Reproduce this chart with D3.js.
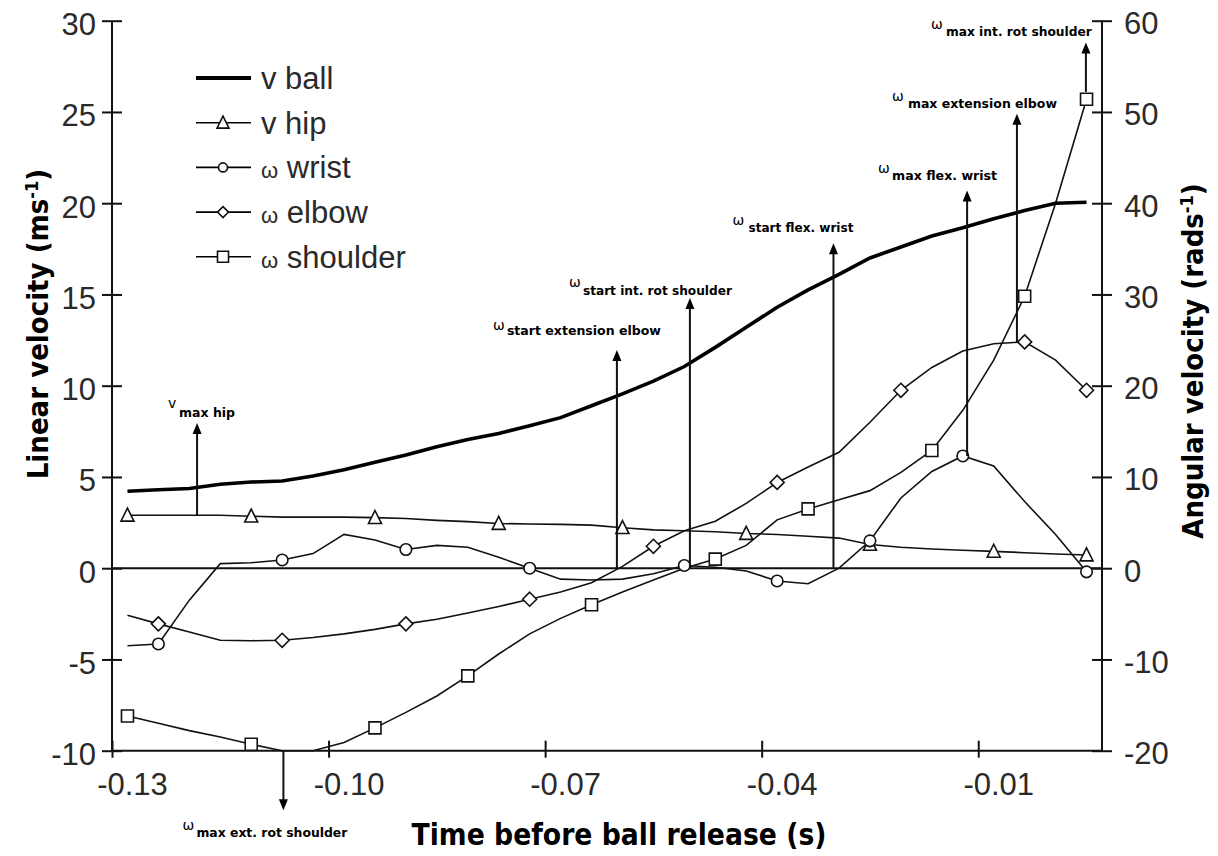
<!DOCTYPE html>
<html>
<head>
<meta charset="utf-8">
<script src="https://cdn.jsdelivr.net/npm/d3@7"></script>
<style>
  html, body { margin: 0; padding: 0; background: #fff; }
  svg { display: block; }
</style>
</head>
<body>
<svg id="chart" width="1218" height="856"></svg>
<script>
// Samples before ball release (one category per sample)
const sampleCount = 32;
const timeLabels = ["-0.13", "-0.10", "-0.07", "-0.04", "-0.01"];
const labelSamples = [0, 7, 14, 21, 28];

// Linear velocities (m/s)
const vBall = [4.22, 4.3, 4.37, 4.6, 4.72, 4.78, 5.05, 5.4, 5.8, 6.2, 6.65, 7.05, 7.38, 7.8, 8.25, 8.9,
               9.55, 10.25, 11.05, 12.1, 13.2, 14.3, 15.25, 16.1, 17.0, 17.6, 18.2, 18.65, 19.15, 19.6, 20.0, 20.05];
const vHip = [2.9, 2.9, 2.9, 2.9, 2.85, 2.8, 2.8, 2.8, 2.77, 2.72, 2.62, 2.55, 2.45, 2.42, 2.4, 2.36,
              2.22, 2.1, 2.05, 2.0, 1.9, 1.85, 1.75, 1.65, 1.3, 1.15, 1.05, 0.98, 0.92, 0.85, 0.78, 0.72];

// Angular velocities (rad/s)
const wWrist = [-8.5, -8.3, -3.5, 0.5, 0.6, 0.9, 1.6, 3.7, 3.1, 2.05, 2.5, 2.3, 1.2, 0.0, -1.2, -1.3,
                -1.2, -0.6, 0.3, 0.1, -0.3, -1.4, -1.7, 0.0, 3.0, 7.7, 10.6, 12.3, 11.2, 7.3, 3.7, -0.4];
const wElbow = [-5.15, -6.1, -7.0, -7.9, -7.95, -7.9, -7.6, -7.2, -6.7, -6.1, -5.6, -4.9, -4.2, -3.4, -2.6, -1.6,
                0.2, 2.4, 4.1, 5.15, 7.1, 9.4, 11.1, 12.7, 16.0, 19.5, 22.0, 23.8, 24.6, 24.8, 22.8, 19.5];
const wShoulder = [-16.2, -17.0, -17.8, -18.5, -19.3, -20.0, -20.0, -19.1, -17.5, -15.8, -14.0, -11.8, -9.4, -7.2, -5.5, -4.0,
                   -2.6, -1.3, 0.0, 1.0, 2.5, 5.3, 6.5, 7.5, 8.5, 10.5, 12.9, 17.3, 22.8, 29.8, 40.0, 51.4];

// Samples that carry a marker
const hipMarks = [0, 4, 8, 12, 16, 20, 24, 28, 31];
const wristMarks = [1, 5, 9, 13, 18, 21, 24, 27, 31];
const elbowMarks = [1, 5, 9, 13, 17, 21, 25, 29, 31];
const shoulderMarks = [0, 4, 8, 11, 15, 19, 22, 26, 29, 31];

const linearTicks = [-10, -5, 0, 5, 10, 15, 20, 25, 30];
const angularTicks = [-20, -10, 0, 10, 20, 30, 40, 50, 60];

// Event arrows: sample position, start and end in m/s units (left axis)
const eventSymbols = ["v", "ω", "ω", "ω", "ω", "ω", "ω", "ω"];
const eventNames = ["max hip", "max ext. rot shoulder", "start extension elbow", "start int. rot shoulder",
                    "start flex. wrist", "max flex. wrist", "max extension elbow", "max int. rot shoulder"];
const eventAt = [2.25, 5.04, 15.82, 18.18, 22.82, 27.14, 28.75, 30.98];
const eventFrom = [2.9, -10, 0, 0, 0, 6.15, 12.4, 26.1];
const eventTo = [7.95, -13.26, 11.95, 14.8, 17.8, 20.7, 24.9, 28.8];

// Label placement for each event (offsets from the arrow tip, label widths)
const eventLayout = [
  { sx: -29, sy: -15, tx: -18, ty: -6, w: 56 },
  { sx: -101, sy: 20, tx: -87, ty: 27, w: 151 },
  { sx: -124, sy: -20, tx: -110, ty: -15, w: 154 },
  { sx: -121, sy: -11, tx: -107, ty: -3, w: 149 },
  { sx: -101, sy: -18, tx: -85, ty: -11, w: 105 },
  { sx: -89, sy: -17, tx: -75, ty: -10, w: 105 },
  { sx: -125, sy: -13, tx: -109, ty: -6, w: 149 },
  { sx: -155, sy: -14, tx: -140, ty: -7, w: 146 }
];

const svg = d3.select("#chart");
const plot = { left: 112, right: 1102, top: 20.7, bottom: 750.7 };

const x = d3.scaleLinear().domain([-0.5, sampleCount - 0.5]).range([plot.left, plot.right]);
const yL = d3.scaleLinear().domain([-10, 30]).range([plot.bottom, plot.top]);
const yR = d3.scaleLinear().domain([-20, 60]).range([plot.bottom, plot.top]);

const ink = "#111";
const tickFont = "'Liberation Sans', Arial, sans-serif";
const titleFont = "'Liberation Sans Narrow', 'Arial Narrow', 'DejaVu Sans Condensed', sans-serif";
const plain = d => String(d);   // hyphen-minus, as printed on the axes

// ----- axes -----
const axisL = svg.append("g").attr("transform", `translate(${plot.left},0)`)
  .call(d3.axisLeft(yL).tickValues(linearTicks).tickFormat(plain).tickSize(10).tickPadding(16));
const axisR = svg.append("g").attr("transform", `translate(${plot.right},0)`)
  .call(d3.axisRight(yR).tickValues(angularTicks).tickFormat(plain).tickSize(10).tickPadding(20));
const axisB = svg.append("g").attr("transform", `translate(0,${plot.bottom})`)
  .call(d3.axisBottom(x).tickValues(labelSamples.map(s => s - 0.5))
    .tickFormat((d, i) => timeLabels[i]).tickSize(7).tickPadding(22));

[axisL, axisR, axisB].forEach(g => {
  g.select(".domain").attr("stroke", ink).attr("stroke-width", 2);
  g.selectAll(".tick line").attr("stroke", ink).attr("stroke-width", 2);
  g.selectAll(".tick text").attr("fill", "#2a2a2a")
    .style("font-family", tickFont).style("font-size", "31px");
});
// ticks cross the axis lines
axisL.selectAll(".tick line").attr("x1", 10).attr("x2", -10);
axisR.selectAll(".tick line").attr("x1", -10).attr("x2", 10);
axisB.selectAll(".tick line").attr("y1", -10).attr("y2", 7);
axisL.selectAll(".tick text").attr("x", -16).attr("dy", "0.45em");
axisR.selectAll(".tick text").attr("x", 22).attr("dy", "0.42em");
axisB.selectAll(".tick text").attr("dx", 20).attr("dy", "0.5em");
axisL.select(".domain").attr("d", `M0,${plot.top}V${plot.bottom}`);
axisR.select(".domain").attr("d", `M0,${plot.top}V${plot.bottom}`);
axisB.select(".domain").attr("d", `M${plot.left},0H${plot.right}`);

// zero line
svg.append("line")
  .attr("x1", plot.left).attr("x2", plot.right)
  .attr("y1", yL(0)).attr("y2", yL(0))
  .attr("stroke", ink).attr("stroke-width", 2);

// ----- titles -----
svg.append("text")
  .attr("x", 619).attr("y", 845).attr("text-anchor", "middle")
  .attr("textLength", 415).attr("lengthAdjust", "spacingAndGlyphs")
  .style("font-family", titleFont).style("font-weight", "bold").style("font-size", "30px")
  .attr("fill", "#000").text("Time before ball release (s)");

function sideTitle(cx, cy, main) {
  const t = svg.append("text")
    .attr("transform", `translate(${cx},${cy}) rotate(-90)`)
    .attr("text-anchor", "middle")
    .style("font-family", titleFont).style("font-weight", "bold").style("font-size", "29px")
    .attr("fill", "#000");
  t.append("tspan").text(main);
  t.append("tspan").attr("dy", -10).style("font-size", "18px").text("-1");
  t.append("tspan").attr("dy", 10).text(")");
  return t;
}
sideTitle(48, 324, "Linear velocity (ms");
sideTitle(1203, 361, "Angular velocity (rads");

// ----- series -----
const line = (vals, scale) => d3.line()
  .x((d, i) => x(i)).y(d => scale(d))(vals);

const series = [
  { vals: vHip, scale: yL, marks: hipMarks, shape: "triangle" },
  { vals: wWrist, scale: yR, marks: wristMarks, shape: "circle" },
  { vals: wElbow, scale: yR, marks: elbowMarks, shape: "diamond" },
  { vals: wShoulder, scale: yR, marks: shoulderMarks, shape: "square" }
];

function markerPath(shape, s) {
  if (shape === "triangle") return `M0,${-s * 0.55}L${s * 0.5},${s * 0.45}L${-s * 0.5},${s * 0.45}Z`;
  if (shape === "diamond") return `M0,${-s / 2}L${s / 2},0L0,${s / 2}L${-s / 2},0Z`;
  if (shape === "square") return `M${-s / 2},${-s / 2}h${s}v${s}h${-s}Z`;
  const r = s / 2;
  return `M${r},0A${r},${r} 0 1,1 ${-r},0A${r},${r} 0 1,1 ${r},0Z`;
}
const markerSize = { triangle: 13, circle: 11.5, diamond: 14, square: 12 };

series.forEach(s => {
  svg.append("path").attr("d", line(s.vals, s.scale))
    .attr("fill", "none").attr("stroke", ink).attr("stroke-width", 1.6);
});

svg.append("path").attr("d", line(vBall, yL))
  .attr("fill", "none").attr("stroke", "#000").attr("stroke-width", 3.6);

series.forEach(s => {
  svg.append("g").selectAll("path").data(s.marks).join("path")
    .attr("transform", i => `translate(${x(i)},${s.scale(s.vals[i])})`)
    .attr("d", markerPath(s.shape, markerSize[s.shape]))
    .attr("fill", "#fff").attr("stroke", ink).attr("stroke-width", 1.6);
});

// ----- event arrows -----
eventAt.forEach((at, k) => {
  const ax = x(at);
  const y0 = yL(eventFrom[k]);
  const y1 = yL(eventTo[k]);
  const dir = y1 < y0 ? 1 : -1;   // 1 = pointing up
  svg.append("line").attr("x1", ax).attr("x2", ax)
    .attr("y1", y0).attr("y2", y1 + dir * 9)
    .attr("stroke", ink).attr("stroke-width", 2);
  svg.append("path")
    .attr("d", `M${ax},${y1}L${ax + 4.5},${y1 + dir * 11}L${ax - 4.5},${y1 + dir * 11}Z`)
    .attr("fill", "#000");
  const L = eventLayout[k];
  svg.append("text").attr("x", ax + L.sx).attr("y", y1 + L.sy)
    .style("font-family", "'DejaVu Sans', sans-serif").style("font-size", "14px")
    .attr("fill", "#000").text(eventSymbols[k]);
  svg.append("text").attr("x", ax + L.tx).attr("y", y1 + L.ty)
    .attr("textLength", L.w).attr("lengthAdjust", "spacingAndGlyphs")
    .style("font-family", titleFont).style("font-weight", "bold").style("font-size", "13px")
    .attr("fill", "#000").text(eventNames[k]);
});

// ----- legend -----
const legendNames = ["v ball", "v hip", "ω wrist", "ω elbow", "ω shoulder"];
const legendShapes = [null, "triangle", "circle", "diamond", "square"];
const legendMarkSize = { triangle: 12, circle: 9, diamond: 11, square: 11 };
const legend = svg.append("g");
legendNames.forEach((name, k) => {
  const ly = 78 + k * 44.7;
  legend.append("line").attr("x1", 196).attr("x2", 251).attr("y1", ly).attr("y2", ly)
    .attr("stroke", "#000").attr("stroke-width", k === 0 ? 4 : 1.6);
  if (legendShapes[k]) {
    legend.append("path").attr("transform", `translate(223,${ly})`)
      .attr("d", markerPath(legendShapes[k], legendMarkSize[legendShapes[k]]))
      .attr("fill", "#fff").attr("stroke", ink).attr("stroke-width", 1.6);
  }
  const parts = name.split(" ");
  const t = legend.append("text").attr("x", 261).attr("y", ly + 11)
    .style("font-family", tickFont).style("font-size", "31px").attr("fill", "#2a2a2a");
  t.append("tspan").style("font-size", parts[0] === "ω" ? "22px" : "31px").text(parts[0]);
  t.append("tspan").text(" " + parts[1]);
});
</script>
</body>
</html>
